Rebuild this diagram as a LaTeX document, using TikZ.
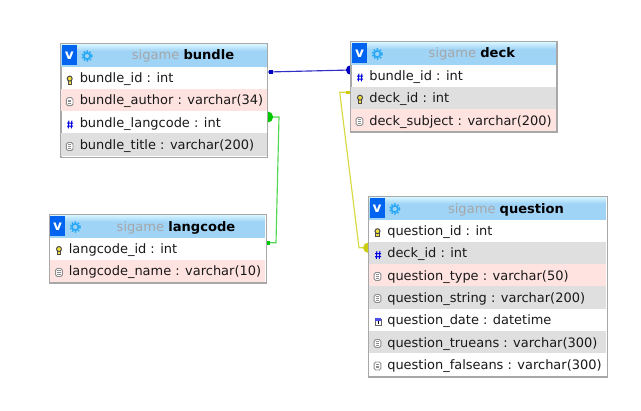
\documentclass[tikz,border=0pt]{standalone}
\usepackage{fontspec}
\setmainfont{DejaVu Sans}
\usetikzlibrary{backgrounds}
\definecolor{hdr}{HTML}{A0D4F7}
\definecolor{hdrtop}{HTML}{D8F6FF}
\definecolor{rowpink}{HTML}{FFE3E0}
\definecolor{rowgrey}{HTML}{DFDFDF}
\definecolor{border}{HTML}{A8A8A8}
\definecolor{vblue}{HTML}{0064F0}
\definecolor{gearblue}{HTML}{28A8F5}
\definecolor{hashblue}{HTML}{0000E0}
\definecolor{linkblue}{HTML}{3030C8}
\definecolor{dotblue}{HTML}{0000C0}
\definecolor{linkgreen}{HTML}{50D850}
\definecolor{dotgreen}{HTML}{00C800}
\definecolor{linkyellow}{HTML}{D8D840}
\definecolor{dotyellow}{HTML}{CCCC10}
\definecolor{keyfill}{HTML}{F4E040}
\tikzset{
  x=0.75pt,y=-0.75pt,
  tbl/.style={draw=border,line width=0.8pt,fill=white,inner sep=0pt,anchor=north west},
  rowtxt/.style={inner sep=0pt,anchor=base west,font=\fontsize{9.72pt}{11pt}\selectfont,text=black!90},
  dbname/.style={inner sep=0pt,anchor=base,font=\fontsize{9.8pt}{11pt}\selectfont},
  rel/.style={line width=0.85pt},
  pics/keyicon/.style={code={
    \draw[line width=0.75pt,draw=black!70,fill=keyfill] (-1.6,0.2) rectangle (1.6,3.9);
    \draw[line width=0.75pt,draw=black!70,fill=keyfill] (0,-1.8) circle (2.5);
  }},
  pics/hashicon/.style={code={
    \draw[hashblue,line width=0.75pt] (-1.2,-3.8)--(-1.6,3.8) (1.8,-3.8)--(1.4,3.8) (-3,-1.3)--(3,-1.3) (-3,1.5)--(3,1.5);
  }},
  pics/docicon/.style={code={
    \draw[black!45,fill=white,line width=0.7pt,rounded corners=1.2pt] (-3.3,-4) rectangle (3.3,4);
    \draw[black!45,line width=0.55pt] (-1.6,-1.7)--(1.6,-1.7) (-1.6,0)--(1.6,0) (-1.6,1.8)--(1.6,1.8);
  }},
  pics/calicon/.style={code={
    \draw[black!60,fill=white,line width=0.5pt] (-3,-3) rectangle (3,3.4);
    \fill[hashblue!70!white] (-3.2,-3.6) rectangle (3.2,-1.4);
    \draw[black,line width=0.7pt] (0,-0.6)--(0,2.4);
  }},
  pics/vicon/.style={code={
    \fill[vblue] (0,0) rectangle (15,20);
    \node[inner sep=0pt,text=white,font=\fontsize{10.3pt}{11pt}\bfseries\selectfont] at (7.5,11) {v};
    \draw[gearblue,line width=1.3pt] (25.2,11) circle (3.2);
    \draw[gearblue,line width=1.1pt,dash pattern=on 1.2pt off 1.2pt] (25.2,11) circle (5);
  }},
}
\begin{document}
\begin{tikzpicture}
\useasboundingbox (0,0) rectangle (641,410);

% ---------- bundle
\node[tbl,minimum width=154.5pt,minimum height=84.75pt] (bundle) at (60.5,43.7) {};
\fill[hdr] (61,44.2) rectangle (266.5,66.7);
\shade[top color=hdrtop,bottom color=hdr] (61,44.2) rectangle (266.5,51);
\pic at (61.8,45) {vicon};
\node[dbname] (bundlettl) at (183,60) {\textcolor{black!35}{sigame} \textbf{bundle}};
\fill[rowpink] (61,89) rectangle (266.5,111);
\fill[rowgrey] (61,133) rectangle (266.5,155.8);
\pic at (69.7,80.4) {keyicon};
\pic at (69.7,101.7) {docicon};
\pic at (70,124.5) {hashicon};
\pic at (69.7,146.5) {docicon};
\node[rowtxt] (b1) at (79.5,82) {bundle\_id : int};
\node[rowtxt] (b2) at (79.5,104) {bundle\_author : varchar(34)};
\node[rowtxt] (b3) at (79.5,127) {bundle\_langcode : int};
\node[rowtxt] (b4) at (79.5,149) {bundle\_title : varchar(200)};

% ---------- deck
\node[tbl,minimum width=154pt,minimum height=67.2pt] (deck) at (350.7,41.5) {};
\fill[hdr] (351.2,42) rectangle (555.5,65);
\shade[top color=hdrtop,bottom color=hdr] (351.2,42) rectangle (555.5,49);
\pic at (352,43) {vicon};
\node[dbname] (deckttl) at (472,58) {\textcolor{black!35}{sigame} \textbf{deck}};
\fill[rowgrey] (351.2,87) rectangle (555.5,109);
\fill[rowpink] (351.2,109) rectangle (555.5,130.5);
\pic at (360,77.5) {hashicon};
\pic at (360,99.5) {keyicon};
\pic at (359.5,121.5) {docicon};
\node[rowtxt] (d1) at (369,80) {bundle\_id : int};
\node[rowtxt] (d2) at (369,102) {deck\_id : int};
\node[rowtxt] (d3) at (369,125) {deck\_subject : varchar(200)};

% ---------- langcode
\node[tbl,minimum width=162.3pt,minimum height=50.9pt] (langcode) at (49.3,214.3) {};
\fill[hdr] (49.8,214.8) rectangle (265.2,237.7);
\shade[top color=hdrtop,bottom color=hdr] (49.8,214.8) rectangle (265.2,221.5);
\pic at (50,216) {vicon};
\node[dbname] (langttl) at (176,231) {\textcolor{black!35}{sigame} \textbf{langcode}};
\fill[rowpink] (49.8,260) rectangle (265.2,281.8);
\pic at (59,250.8) {keyicon};
\pic at (59,272.5) {docicon};
\node[rowtxt] (l1) at (68.5,253.5) {langcode\_id : int};
\node[rowtxt] (l2) at (68.5,275.5) {langcode\_name : varchar(10)};

% ---------- question
\node[tbl,minimum width=178.8pt,minimum height=134.7pt] (question) at (368.3,196.3) {};
\fill[hdr] (368.8,196.8) rectangle (606.2,220);
\shade[top color=hdrtop,bottom color=hdr] (368.8,196.8) rectangle (606.2,203.5);
\pic at (369.5,198) {vicon};
\node[dbname] (qttl) at (506,213) {\textcolor{black!35}{sigame} \textbf{question}};
\fill[rowgrey] (368.8,242) rectangle (606.2,264);
\fill[rowpink] (368.8,264) rectangle (606.2,286);
\fill[rowgrey] (368.8,286) rectangle (606.2,309);
\fill[rowgrey] (368.8,331) rectangle (606.2,353);
\pic at (377.5,233) {keyicon};
\pic at (378,255) {hashicon};
\pic at (377.5,276.5) {docicon};
\pic at (377.5,298.5) {docicon};
\pic at (378,322) {calicon};
\pic at (377.5,343.5) {docicon};
\pic at (377.5,366) {docicon};
\node[rowtxt] (q1) at (387,235) {question\_id : int};
\node[rowtxt] (q2) at (387,257) {deck\_id : int};
\node[rowtxt] (q3) at (387,280) {question\_type : varchar(50)};
\node[rowtxt] (q4) at (387,302) {question\_string : varchar(200)};
\node[rowtxt] (q5) at (387,324) {question\_date : datetime};
\node[rowtxt] (q6) at (387,347) {question\_trueans : varchar(300)};
\node[rowtxt] (q7) at (387,369) {question\_falseans : varchar(300)};

% borders on top of the bands
\draw[border,line width=0.8pt] (bundle.north west) rectangle (bundle.south east);
\draw[border,line width=0.8pt] (deck.north west) rectangle (deck.south east);
\draw[border,line width=0.8pt] (langcode.north west) rectangle (langcode.south east);
\draw[border,line width=0.8pt] (question.north west) rectangle (question.south east);

% ---------- connectors, behind the tables
\begin{pgfonlayer}{background}
\fill[white] (0,0) rectangle (641,410);
\coordinate (bundleA) at (bundle.north east |- 0,72);
\coordinate (deckA) at (deck.north west |- 0,70);
\coordinate (bundleB) at (bundle.north east |- 0,117);
\coordinate (langB) at (langcode.north east |- 0,242.7);
\coordinate (deckC) at (deck.north west |- 0,92.3);
\coordinate (qC) at (question.north west |- 0,247.7);
\draw[rel,linkblue] (bundleA) -- (deckA);
\fill[dotblue] (269.2,70.2) rectangle (272.6,73.6);
\fill[dotblue] (deckA) circle (4.8);
\draw[rel,linkgreen] (bundleB) -- (279,117) -- (276,242.7) -- (langB);
\fill[dotgreen] (bundleB) circle (5.6);
\fill[dotgreen] (266,240.8) rectangle (270,244.6);
\draw[rel,linkyellow] (deckC) -- (339.7,92.3) -- (359,247.7) -- (qC);
\fill[dotyellow] (346,90.5) rectangle (351,94);
\fill[dotyellow] (qC) circle (5.2);
\end{pgfonlayer}
\end{tikzpicture}
\end{document}
